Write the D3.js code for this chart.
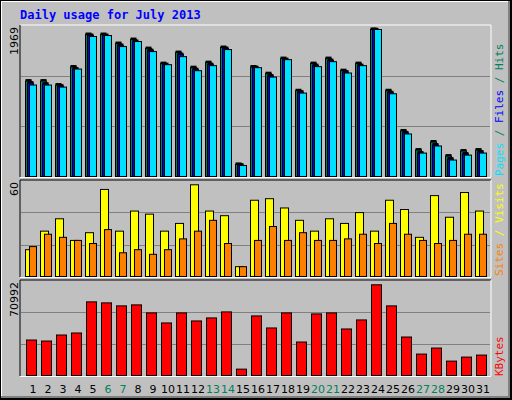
<!DOCTYPE html><html><head><meta charset="utf-8">
<script src="https://cdn.jsdelivr.net/npm/d3@7"></script>
<style>body{margin:0;background:#fff}</style></head><body><svg id="c" width="512" height="400"></svg>
<script>
const days = d3.range(1,32);
const weekends = [6,7,13,14,20,21,27,28];
const hits  = [1283,1283,1230,1470,1902,1902,1782,1835,1715,1515,1662,1461,1528,1729,174,1470,1381,1582,1154,1515,1582,1421,1515,1969,1154,619,365,472,285,352,365];
const files = [1256,1243,1216,1443,1889,1889,1755,1809,1688,1501,1635,1434,1501,1715,165,1461,1350,1568,1136,1488,1555,1403,1488,1965,1127,593,325,432,245,312,339];
const pages = [1230,1230,1203,1443,1876,1889,1742,1809,1675,1501,1608,1421,1488,1702,160,1461,1336,1568,1123,1475,1541,1390,1488,1969,1114,579,325,419,232,298,325];
const visits= [18,30,38,24,29,57,30,43,41,30,35,60,43,40,7,50,51,45,37,30,38,35,42,30,50,44,26,53,39,55,43];
const sites = [20,28,26,24,22,31,16,18,15,18,25,30,37,22,7,24,33,24,29,24,24,25,28,22,35,28,24,22,24,28,28];
const kbytes= [28242,27464,32128,33682,57778,57000,54668,55445,49228,41455,49228,43010,45342,50005,5700,46896,37569,49228,26687,48450,49228,36792,43787,70992,54668,30573,17359,22023,11918,15028,16582];
const maxLabels = ["1969","60","70992"];

const svg = d3.select("#c");
svg.append("rect").attr("x",0).attr("y",0).attr("width",512).attr("height",400).attr("fill","#000");
svg.append("rect").attr("x",1).attr("y",1).attr("width",509).attr("height",397).attr("fill","#808080");
svg.append("rect").attr("x",1).attr("y",1).attr("width",507).attr("height",395).attr("fill","#fff");
svg.append("rect").attr("x",2).attr("y",2).attr("width",506).attr("height",394).attr("fill","#c0c0c0");
svg.append("text").attr("x",20).attr("y",19).text("Daily usage for July 2013")
  .attr("font-family","DejaVu Sans Mono").attr("font-weight","bold").attr("font-size",12).attr("fill","#0000ff");

const x = d3.scaleLinear().domain([1,31]).range([25,475]);
const panels = [
  {top:25,base:177,maxY:29,max:1969},
  {top:180,base:277,maxY:184.3,max:60},
  {top:280,base:376,maxY:284.3,max:70992}
];
panels.forEach((p,i)=>{
  p.y = d3.scaleLinear().domain([0,p.max]).range([p.base,p.maxY]);
  svg.append("line").attr("x1",20).attr("x2",491).attr("y1",p.top).attr("y2",p.top).attr("stroke",i==0?"#fff":"#000");
  svg.append("line").attr("x1",20).attr("x2",20).attr("y1",p.top).attr("y2",p.base).attr("stroke","#000");
  svg.append("line").attr("x1",491).attr("x2",491).attr("y1",p.top).attr("y2",p.base).attr("stroke","#fff");
  svg.append("line").attr("x1",20).attr("x2",491).attr("y1",p.base+0.5).attr("y2",p.base+0.5).attr("stroke","#fff");
  const h = p.base-p.top;
  [1/3,2/3].forEach(f=>svg.append("line").attr("x1",21).attr("x2",490)
    .attr("y1",Math.round(p.base-h*f)+0.5).attr("y2",Math.round(p.base-h*f)+0.5).attr("stroke","#808080"));
  svg.append("text").attr("transform",`translate(18,${p.top+2}) rotate(-90)`).attr("text-anchor","end")
    .attr("font-family","DejaVu Sans").attr("font-size",11).attr("fill","#000").text(maxLabels[i]);
});

function bars(data,p,dx,w,color,shadow){
  const g = svg.append("g");
  data.forEach((v,i)=>{
    const xx = x(days[i])+dx, yy = p.y(v);
    if(shadow) g.append("rect").attr("x",xx+0.5).attr("y",yy-1.5).attr("width",w).attr("height",p.base-yy+1).attr("fill","#000");
    g.append("rect").attr("x",xx+0.5).attr("y",yy+0.5).attr("width",w).attr("height",p.base-yy-1)
      .attr("fill",color).attr("stroke","#000");
  });
}
bars(hits,panels[0],0,6,"#00805c",true);
bars(files,panels[0],2,6,"#0000ff",true);
bars(pages,panels[0],4,7,"#00e0ff",false);
bars(visits,panels[1],0,8,"#ffff00",false);
bars(sites,panels[1],4,7,"#ff8000",false);
bars(kbytes,panels[2],1,10,"#ff0000",false);

function rlabel(parts,yb){
  const t = svg.append("text").attr("transform",`translate(503,${yb}) rotate(-90)`)
    .attr("font-family","DejaVu Sans Mono").attr("font-size",11);
  parts.forEach(([s,c])=>t.append("tspan").attr("fill",c).text(s));
}
rlabel([["Pages","#00e0ff"],[" / ","#00805c"],["Files","#0000ff"],[" / ","#00805c"],["Hits","#00805c"]],176);
rlabel([["Sites","#ff8000"],[" / ","#ffff00"],["Visits","#ffff00"]],276);
rlabel([["KBytes","#ff0000"]],376);

days.forEach(d=>svg.append("text").attr("x",x(d)+8).attr("y",393).attr("text-anchor","middle")
  .attr("font-family","DejaVu Sans").attr("font-size",11)
  .attr("fill",weekends.includes(d)?"#00805c":"#000").text(d));
</script></body></html>
